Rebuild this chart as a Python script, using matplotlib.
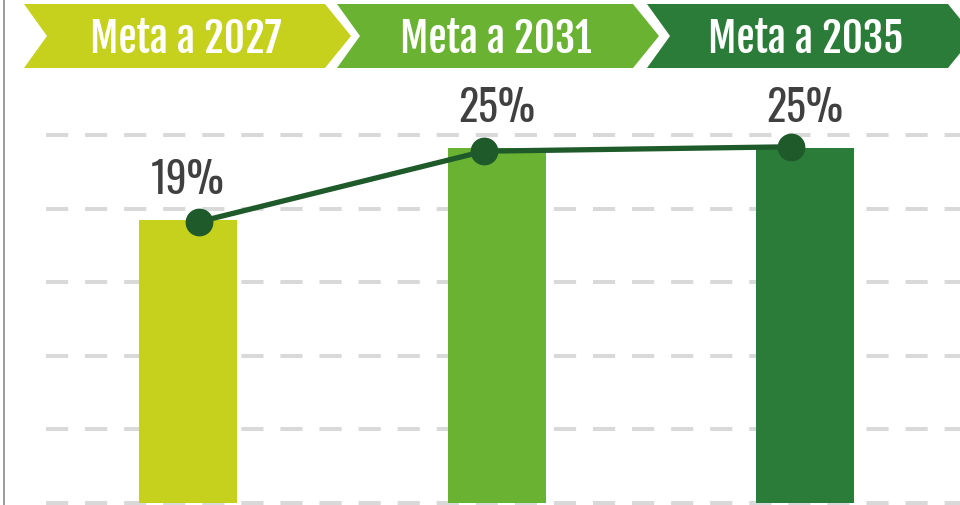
import matplotlib.pyplot as plt
from matplotlib.patches import Polygon

# data
headers = ["Meta a 2027", "Meta a 2031", "Meta a 2035"]
bar_values = [19.2, 24.1, 24.1]
line_values = [19.1, 23.9, 24.2]
value_labels = ["19%", "25%", "25%"]
grid_values = [0, 5, 10, 15, 20, 25]

colors = ["#C6D11E", "#6AB232", "#2B7C38"]
line_color = "#1E5A2A"
head_font = ["Fjalla One", "DejaVu Sans"]
label_font = ["Oswald", "DejaVu Sans"]

W, H = 960, 505
fig = plt.figure(figsize=(W / 100, H / 100), dpi=100)
fig.patch.set_facecolor("white")

# chart axes: 5 units per 73.6 px, zero at y=503 px; categories every 308.5 px, first at x=188 px
ax = fig.add_axes([0, 0, 1, 1])
ax.set_ylim((503 - H) / 73.6 * 5, 503 / 73.6 * 5)
ax.set_xlim(-188 / 308.5, (W - 188) / 308.5)
ax.axis("off")

for g in grid_values:
    ax.axhline(g, xmin=46 / W, xmax=1, color="#D9D9D9", lw=2.9,
               linestyle=(0, (5.5, 4.2)), zorder=1)

x = list(range(len(bar_values)))
ax.bar(x, bar_values, width=98 / 308.5, color=colors, zorder=2)

line_offsets = [0.035, -0.04, -0.045]
line_x = [i + o for i, o in zip(x, line_offsets)]
ax.plot(line_x, line_values, color=line_color, lw=3.8, marker="o", ms=19,
        zorder=3, solid_capstyle="round")

for i, (v, lab) in enumerate(zip(bar_values, value_labels)):
    ax.text(i, v + 1.78, lab, ha="center", va="baseline", fontsize=30,
            color="#404040", family=label_font)

# header chevrons in pixel coordinates
hax = fig.add_axes([0, 0, 1, 1])
hax.set_xlim(0, W)
hax.set_ylim(H, 0)
hax.axis("off")
hax.patch.set_alpha(0)

chevrons = [(24, 325), (337, 633), (647, 948)]
top, bot, mid, depth = 4, 68, 36, 26
for (x0, x1), c in zip(chevrons, colors):
    pts = [(x0, top), (x1, top), (x1 + depth, mid), (x1, bot), (x0, bot), (x0 + depth - 3, mid)]
    hax.add_patch(Polygon(pts, closed=True, facecolor=c, edgecolor="none"))
for cx, txt in zip([186, 496, 806], headers):
    hax.text(cx, 53, txt, ha="center", va="baseline", fontsize=29.5, color="white",
             family=head_font)

# thin border on the left edge
hax.plot([3.5, 3.5], [0, H], color="#8A8A8A", lw=1.2)

fig.savefig("out.png", dpi=100)
